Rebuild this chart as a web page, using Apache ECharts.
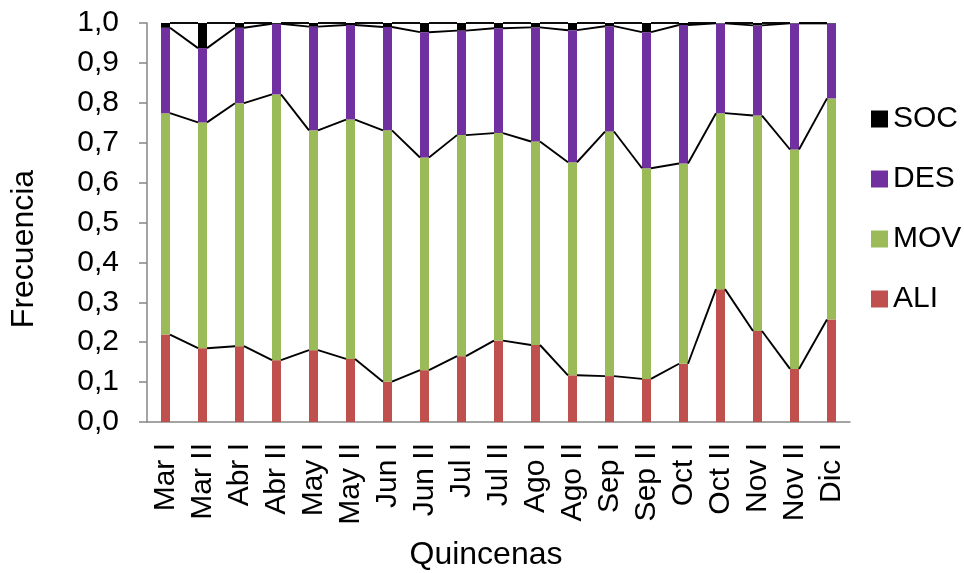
<!DOCTYPE html>
<html>
<head>
<meta charset="utf-8">
<script src="https://cdn.jsdelivr.net/npm/echarts@6/dist/echarts.min.js"></script>
<style>
html,body{margin:0;padding:0;background:#fff;}
#chart{width:964px;height:573px;}
</style>
</head>
<body>
<div id="chart"></div>
<script>
const categories = ['Mar I','Mar II','Abr I','Abr II','May I','May II','Jun I','Jun II','Jul I','Jul II','Ago I','Ago II','Sep I','Sep II','Oct I','Oct II','Nov I','Nov II','Dic I'];
const ALI = [0.219,0.185,0.190,0.155,0.180,0.158,0.101,0.130,0.165,0.204,0.193,0.117,0.115,0.108,0.146,0.333,0.228,0.133,0.257];
const MOV = [0.555,0.566,0.609,0.666,0.551,0.600,0.630,0.533,0.554,0.520,0.510,0.534,0.613,0.528,0.502,0.441,0.540,0.550,0.554];
const DES = [0.214,0.186,0.189,0.177,0.260,0.237,0.259,0.314,0.262,0.263,0.286,0.331,0.264,0.341,0.347,0.225,0.226,0.316,0.188];
const SOC = [0.012,0.063,0.012,0.002,0.009,0.005,0.010,0.023,0.019,0.013,0.011,0.018,0.008,0.023,0.005,0.001,0.006,0.001,0.001];
const yTicks = ['0,0','0,1','0,2','0,3','0,4','0,5','0,6','0,7','0,8','0,9','1,0'];

const FONT = 'Liberation Sans, Arial, sans-serif';
const BAR_W = 9;

// cumulative tops for series lines
const layers = [ALI, MOV, DES, SOC];
const cums = [];
let running = categories.map(() => 0);
layers.forEach(arr => {
  running = running.map((v, i) => v + arr[i]);
  cums.push(running.slice());
});
const lineData = [];
cums.forEach(c => {
  for (let i = 0; i < c.length - 1; i++) lineData.push([i, c[i], c[i + 1]]);
});

const chart = echarts.init(document.getElementById('chart'), null, {renderer: 'canvas'});
const barSeries = (name, data, color) => ({
  name: name, type: 'bar', stack: 'total', data: data, barWidth: BAR_W,
  itemStyle: {color: color}, emphasis: {disabled: true}
});

chart.setOption({
  animation: false,
  grid: {left: 147, right: 114, top: 23, bottom: 151, containLabel: false},
  legend: {
    orient: 'vertical', left: 866, top: 99,
    itemWidth: 17, itemHeight: 17, itemGap: 30, icon: 'rect',
    data: ['SOC', 'DES', 'MOV', 'ALI'],
    textStyle: {fontFamily: FONT, fontSize: 30, color: '#000', lineHeight: 30}
  },
  xAxis: {
    type: 'category', data: categories, boundaryGap: true,
    axisLine: {lineStyle: {color: '#868686', width: 1.5}},
    axisTick: {show: false},
    axisLabel: {rotate: 90, interval: 0, margin: 21, fontFamily: FONT, fontSize: 30, color: '#000'}
  },
  yAxis: {
    type: 'value', min: 0, max: 1, interval: 0.1,
    axisLine: {show: true, lineStyle: {color: '#868686', width: 1.5}},
    axisTick: {show: true, inside: false, length: 8, lineStyle: {color: '#868686', width: 1.5}},
    splitLine: {show: false},
    axisLabel: {
      margin: 28, fontFamily: FONT, fontSize: 30, color: '#000',
      formatter: (v) => yTicks[Math.round(v * 10)]
    }
  },
  graphic: [
    {type: 'text', x: 24, y: 249, rotation: Math.PI / 2,
     style: {text: 'Frecuencia', font: '32px ' + FONT, fill: '#000', textAlign: 'center', textVerticalAlign: 'middle'}},
    {type: 'text', x: 486, y: 555,
     style: {text: 'Quincenas', font: '32px ' + FONT, fill: '#000', textAlign: 'center', textVerticalAlign: 'middle'}}
  ],
  series: [
    barSeries('ALI', ALI, '#C0504D'),
    barSeries('MOV', MOV, '#9BBB59'),
    barSeries('DES', DES, '#7030A0'),
    barSeries('SOC', SOC, '#000000'),
    {
      name: 'serieslines', type: 'custom', data: lineData, z: 5, silent: true,
      renderItem: function (params, api) {
        const p1 = api.coord([api.value(0), api.value(1)]);
        const p2 = api.coord([api.value(0) + 1, api.value(2)]);
        return {
          type: 'line',
          shape: {x1: p1[0] + BAR_W / 2, y1: p1[1], x2: p2[0] - BAR_W / 2, y2: p2[1]},
          style: {stroke: '#000', lineWidth: 1.9}
        };
      }
    }
  ]
});
</script>
</body>
</html>
